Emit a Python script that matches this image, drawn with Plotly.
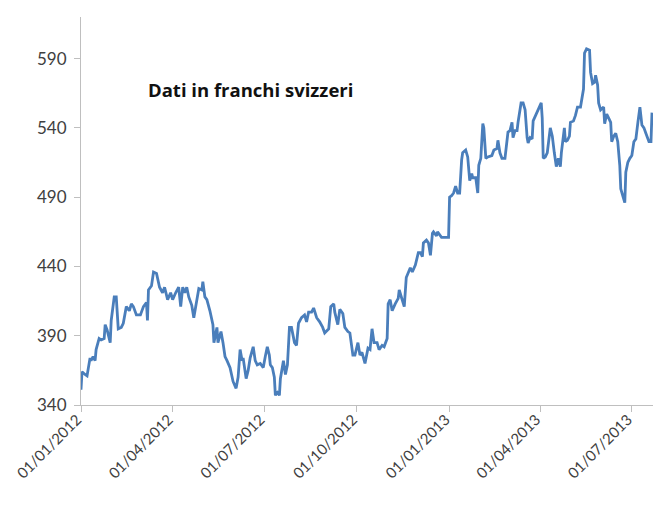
import plotly.graph_objects as go

dates = [
    "2012-01-01", "2012-01-02", "2012-01-05", "2012-01-07", "2012-01-10", "2012-01-11", "2012-01-13",
    "2012-01-15", "2012-01-16", "2012-01-19", "2012-01-21", "2012-01-24", "2012-01-25", "2012-01-27",
    "2012-01-30", "2012-01-31", "2012-02-03", "2012-02-05", "2012-02-07", "2012-02-10", "2012-02-12",
    "2012-02-15", "2012-02-18", "2012-02-20", "2012-02-22", "2012-02-25", "2012-02-29", "2012-03-03",
    "2012-03-06", "2012-03-07", "2012-03-08", "2012-03-10", "2012-03-11", "2012-03-13", "2012-03-16",
    "2012-03-19", "2012-03-22", "2012-03-24", "2012-03-27", "2012-03-30", "2012-04-01", "2012-04-04",
    "2012-04-07", "2012-04-09", "2012-04-11", "2012-04-13", "2012-04-15", "2012-04-17", "2012-04-20",
    "2012-04-22", "2012-04-25", "2012-04-27", "2012-04-30", "2012-05-01", "2012-05-03", "2012-05-05",
    "2012-05-08", "2012-05-11", "2012-05-12", "2012-05-15", "2012-05-16", "2012-05-19", "2012-05-21",
    "2012-05-23", "2012-05-25", "2012-05-28", "2012-05-31", "2012-06-03", "2012-06-05", "2012-06-07",
    "2012-06-09", "2012-06-10", "2012-06-13", "2012-06-15", "2012-06-17", "2012-06-20", "2012-06-22",
    "2012-06-24", "2012-06-27", "2012-06-30", "2012-07-02", "2012-07-04", "2012-07-06", "2012-07-07",
    "2012-07-09", "2012-07-11", "2012-07-12", "2012-07-14", "2012-07-16", "2012-07-17", "2012-07-20",
    "2012-07-22", "2012-07-24", "2012-07-26", "2012-07-28", "2012-07-31", "2012-08-02", "2012-08-04",
    "2012-08-07", "2012-08-10", "2012-08-12", "2012-08-14", "2012-08-17", "2012-08-19", "2012-08-22",
    "2012-08-25", "2012-08-28", "2012-08-30", "2012-09-03", "2012-09-05", "2012-09-08", "2012-09-09",
    "2012-09-12", "2012-09-14", "2012-09-17", "2012-09-19", "2012-09-22", "2012-09-24", "2012-09-27",
    "2012-09-29", "2012-10-02", "2012-10-04", "2012-10-06", "2012-10-09", "2012-10-12", "2012-10-14",
    "2012-10-16", "2012-10-18", "2012-10-21", "2012-10-23", "2012-10-26", "2012-10-28", "2012-10-31",
    "2012-11-01", "2012-11-03", "2012-11-05", "2012-11-08", "2012-11-11", "2012-11-12", "2012-11-15",
    "2012-11-17", "2012-11-19", "2012-11-21", "2012-11-23", "2012-11-25", "2012-11-28", "2012-12-01",
    "2012-12-03", "2012-12-05", "2012-12-06", "2012-12-09", "2012-12-11", "2012-12-13", "2012-12-15",
    "2012-12-16", "2012-12-19", "2012-12-20", "2012-12-24", "2012-12-27", "2012-12-31",
    "2013-01-01", "2013-01-03", "2013-01-05", "2013-01-07", "2013-01-09", "2013-01-11", "2013-01-13",
    "2013-01-14", "2013-01-17", "2013-01-19", "2013-01-21", "2013-01-23", "2013-01-24", "2013-01-27",
    "2013-01-29", "2013-01-30", "2013-02-01", "2013-02-03", "2013-02-04", "2013-02-06", "2013-02-08",
    "2013-02-12", "2013-02-14", "2013-02-17", "2013-02-18", "2013-02-20", "2013-02-22", "2013-02-25",
    "2013-02-28", "2013-03-02", "2013-03-04", "2013-03-05", "2013-03-07", "2013-03-09", "2013-03-10",
    "2013-03-13", "2013-03-15", "2013-03-17", "2013-03-19", "2013-03-20", "2013-03-22", "2013-03-24",
    "2013-03-25", "2013-03-28", "2013-03-30", "2013-04-02", "2013-04-03", "2013-04-04", "2013-04-06",
    "2013-04-08", "2013-04-11", "2013-04-13", "2013-04-15", "2013-04-17", "2013-04-19", "2013-04-21",
    "2013-04-22", "2013-04-25", "2013-04-26", "2013-04-28", "2013-04-30", "2013-05-01", "2013-05-04",
    "2013-05-06", "2013-05-08", "2013-05-11", "2013-05-14", "2013-05-15", "2013-05-17", "2013-05-20",
    "2013-05-21", "2013-05-23", "2013-05-25", "2013-05-26", "2013-05-28", "2013-05-29", "2013-05-31",
    "2013-06-03", "2013-06-04", "2013-06-06", "2013-06-08", "2013-06-10", "2013-06-11", "2013-06-13",
    "2013-06-15", "2013-06-17", "2013-06-19", "2013-06-20", "2013-06-22", "2013-06-24", "2013-06-25",
    "2013-06-27", "2013-06-29", "2013-07-01", "2013-07-03", "2013-07-05", "2013-07-07", "2013-07-09",
    "2013-07-11", "2013-07-13", "2013-07-15", "2013-07-18", "2013-07-20", "2013-07-21",
]

prices = [
    351, 364, 362, 361, 374, 372, 375,
    372, 380, 388, 387, 388, 398, 394,
    385, 401, 418, 418, 395, 396, 399,
    411, 408, 413, 411, 405, 405, 411,
    414, 401, 423, 425, 426, 436, 435,
    425, 421, 425, 416, 421, 416, 421,
    425, 411, 425, 421, 425, 418, 412,
    403, 416, 424, 423, 429, 418, 416,
    408, 398, 385, 396, 385, 393, 385,
    375, 372, 367, 357, 352, 360, 380,
    372, 374, 359, 365, 374, 382, 372,
    369, 370, 367, 375, 382, 376, 369,
    367, 360, 347, 349, 347, 359, 372,
    362, 369, 396, 396, 385, 383, 399,
    403, 405, 400, 407, 407, 410, 403,
    400, 396, 392, 395, 411, 413, 407,
    398, 409, 406, 396, 393, 392, 376,
    376, 385, 376, 378, 370, 381, 380,
    395, 385, 385, 380, 383, 382, 388,
    413, 416, 408, 413, 417, 423, 415,
    411, 432, 435, 439, 436, 441, 450,
    450, 447, 457, 459, 457, 448, 464,
    465, 462, 465, 461, 461, 461,
    490, 491, 493, 498, 493, 493, 517,
    522, 524, 519, 502, 507, 504, 504,
    493, 513, 518, 543, 540, 518, 519,
    520, 524, 525, 531, 522, 518, 518,
    537, 538, 544, 533, 538, 538, 544,
    558, 558, 553, 533, 529, 533, 532,
    545, 550, 552, 558, 547, 518, 519,
    522, 540, 534, 522, 512, 518, 512,
    522, 540, 530, 531, 534, 544, 545,
    549, 555, 555, 568, 594, 597, 596,
    580, 572, 573, 578, 571, 558, 553,
    555, 543, 550, 547, 544, 530, 534,
    536, 530, 513, 496, 491, 486, 508,
    515, 518, 520, 530, 532, 544, 555,
    542, 540, 536, 530, 530, 551,
]

y_ticks = [340, 390, 440, 490, 540, 590]
x_range = ["2012-01-01", "2013-07-22"]
y_range = [340, 620]
note = "Dati in franchi svizzeri"

fig = go.Figure()
fig.add_trace(go.Scatter(
    x=dates, y=prices, mode="lines",
    line=dict(color="#4a7ebb", width=2.8),
    hoverinfo="x+y", showlegend=False,
))

axis_color = "#bfbfbf"
x_font = dict(family="Lato, Open Sans, sans-serif", size=15, color="#404040")
y_font = dict(family="Lato, Open Sans, sans-serif", size=17, color="#404040")

fig.update_layout(
    width=653, height=505,
    margin=dict(l=81, r=0, t=17, b=100, autoexpand=False),
    paper_bgcolor="white", plot_bgcolor="white",
    xaxis=dict(
        type="date", range=x_range, automargin=False,
        tick0="2012-01-01", dtick="M3", tickformat="%d/%m/%Y",
        tickangle=-45, ticks="outside", ticklen=6, tickcolor=axis_color,
        ticklabelstandoff=-7, ticklabelshift=-4,
        showline=True, linecolor=axis_color, linewidth=1,
        showgrid=False, zeroline=False, tickfont=x_font,
    ),
    yaxis=dict(
        range=y_range, tickvals=y_ticks, automargin=False,
        ticks="outside", ticklen=6, tickcolor=axis_color,
        ticklabelstandoff=4,
        showline=True, linecolor=axis_color, linewidth=1,
        showgrid=False, zeroline=False, tickfont=y_font,
    ),
    annotations=[dict(
        text="<b>" + note + "</b>", x=0.297, y=0.812, xref="paper", yref="paper",
        showarrow=False, xanchor="center", yanchor="middle",
        font=dict(family="Open Sans, Noto Sans, sans-serif", size=18.5, color="#111111"),
    )],
)

fig.write_html(
    "out.html",
    config={"displayModeBar": False},
    post_script="document.body.style.margin='0';document.body.style.overflow='hidden';",
)
